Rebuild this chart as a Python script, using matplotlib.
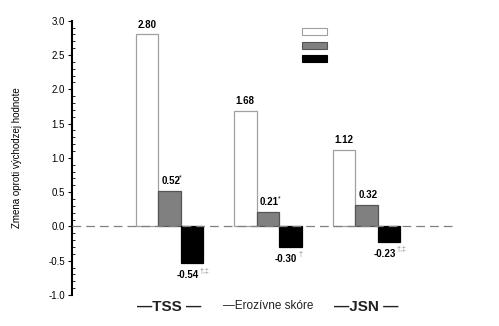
import numpy as np
import matplotlib.pyplot as plt
from matplotlib.ticker import MultipleLocator
from matplotlib.patches import Rectangle

plt.rcParams['font.family'] = ['Liberation Sans', 'DejaVu Sans']

# hodnoty zmien pre jednotlivé skóre
categories = ['TSS', 'Erozívne skóre', 'JSN']
cat_labels = ['\u2014TSS \u2014', '\u2014Erozívne skóre', '\u2014JSN \u2014']
white_vals = [2.80, 1.68, 1.12]
grey_vals = [0.52, 0.21, 0.32]
black_vals = [-0.54, -0.30, -0.23]
grey_marks = ['*', '*', '']
black_marks = ['\u2020,\u2021', '\u2020', '\u2020,\u2021']

fig = plt.figure(figsize=(4.99, 3.26), dpi=100)
ax = fig.add_axes([0.1437, 0.095, 0.7723, 0.8415])

x = np.arange(len(categories))
w = 0.228

ax.axhline(0, color='#808080', lw=0.9, ls=(0, (7, 4)), zorder=3)
ax.bar(x - w, white_vals, w, color='white', edgecolor='#a0a0a0', lw=0.9, zorder=2)
ax.bar(x, grey_vals, w, color='#808080', edgecolor='#555555', lw=0.9, zorder=2)
ax.bar(x + w, black_vals, w, color='black', edgecolor='black', lw=0.9, zorder=2)

fs = 7
for i in range(len(categories)):
    ax.text(x[i] - w, white_vals[i] + 0.07, f'{white_vals[i]:.2f}', ha='center', va='bottom',
            fontsize=fs, fontweight='bold')
    ax.text(x[i] - w * 0.35, grey_vals[i] + 0.07, f'{grey_vals[i]:.2f}', ha='left', va='bottom',
            fontsize=fs, fontweight='bold')
    if grey_marks[i]:
        ax.annotate(grey_marks[i], (x[i] - w * 0.35, grey_vals[i] + 0.07), xytext=(12.8, 3.5),
                    textcoords='offset points', fontsize=5, va='bottom')
    ax.text(x[i] + w * 0.8, black_vals[i] - 0.1, f'{black_vals[i]:.2f}', ha='center', va='top',
            fontsize=fs, fontweight='bold')
    ax.annotate(black_marks[i], (x[i] + w * 0.8, black_vals[i] - 0.1), xytext=(9, 2),
                textcoords='offset points', fontsize=5, color='#888888', va='top', ha='left')

for i, lab in enumerate(cat_labels):
    ax.text(x[i], -1.07, lab, ha='center', va='top', fontsize=11 if i != 1 else 8.5,
            fontweight='bold' if i != 1 else 'normal', color='#222222')

ax.set_xlim(-0.99, 2.92)
ax.set_ylim(-1.0, 3.0)
ax.yaxis.set_major_locator(MultipleLocator(0.5))
ax.yaxis.set_minor_locator(MultipleLocator(0.1))
ax.yaxis.set_major_formatter(lambda v, p: f'{v:.1f}')
ax.tick_params(axis='y', which='major', direction='out', length=3, width=0.8, labelsize=7, pad=2)
ax.tick_params(axis='y', which='minor', direction='in', length=2, width=0.6)
ax.set_xticks([])
for s in ['top', 'right', 'bottom']:
    ax.spines[s].set_visible(False)
ax.spines['left'].set_linewidth(1.5)
ax.set_ylabel('Zmena oproti východzej hodnote', fontsize=7, labelpad=19)

# legenda bez popisov
leg_y = [2.79, 2.59, 2.40]
leg_fc = ['white', '#808080', 'black']
leg_ec = ['#a0a0a0', '#555555', 'black']
for yy, fc, ec in zip(leg_y, leg_fc, leg_ec):
    ax.add_patch(Rectangle((1.35, yy), 0.25, 0.1, facecolor=fc, edgecolor=ec, lw=0.8, zorder=4))

fig.savefig('out.png', dpi=100)
